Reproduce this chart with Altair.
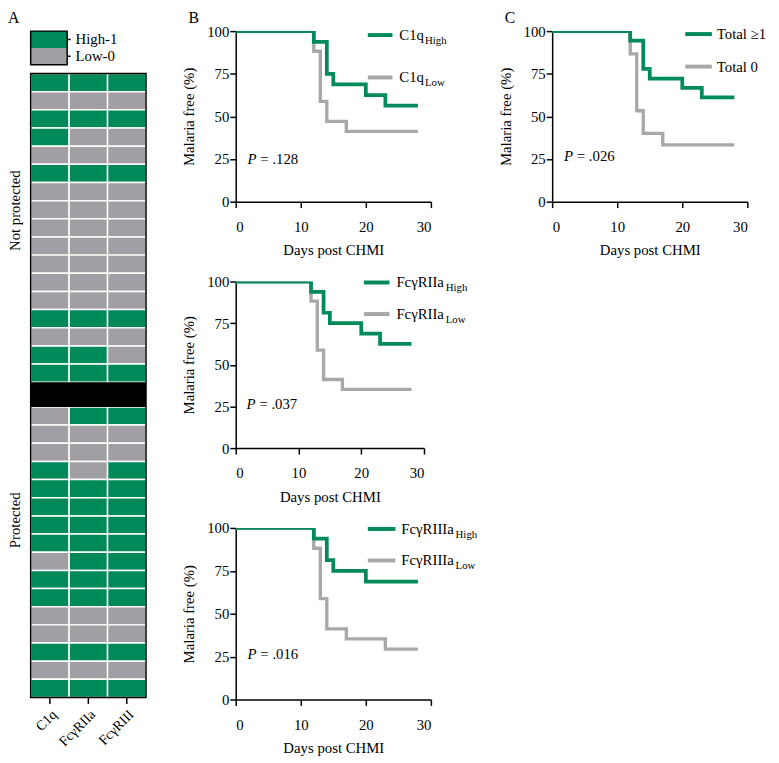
import altair as alt
import pandas as pd

GREEN = "#008A5A"
GRAY_HM = "#A19FA3"
GRAY_LN = "#A8A8A8"
FONT = "Liberation Serif"

# ---------------- Panel A data (1 = High, 0 = Low), rows top to bottom ----------------
columns = ["C1q", "FcγRIIa", "FcγRIII"]
np_c1q = [1, 0, 1, 1, 0, 1, 0, 0, 0, 0, 0, 0, 0, 1, 0, 1, 1]
np_fc2a = [1, 0, 1, 0, 0, 1, 0, 0, 0, 0, 0, 0, 0, 1, 0, 1, 1]
np_fc3 = [1, 0, 1, 0, 0, 1, 0, 0, 0, 0, 0, 0, 0, 1, 0, 0, 1]
pr_c1q = [0, 0, 0, 1, 1, 1, 1, 1, 0, 1, 1, 0, 0, 1, 0, 1]
pr_fc2a = [1, 0, 0, 0, 1, 1, 1, 1, 1, 1, 1, 0, 0, 1, 0, 1]
pr_fc3 = [1, 0, 0, 1, 1, 1, 1, 1, 1, 1, 1, 0, 0, 1, 0, 1]
groups = ["Not protected", "Protected"]
levels = ["High-1", "Low-0"]

# ---------------- Panel B / C Kaplan-Meier data ----------------
b1_high_t = [0, 12, 14, 15, 20, 23, 28]
b1_high_s = [100, 93.75, 75, 68.75, 62.5, 56.25, 56.25]
b1_low_t = [0, 12, 13, 14, 17, 28]
b1_low_s = [100, 88.2, 58.8, 47.1, 41.2, 41.2]

b2_high_t = [0, 12, 14, 15, 20, 23, 28]
b2_high_s = [100, 93.75, 81.25, 75, 68.75, 62.5, 62.5]
b2_low_t = [0, 12, 13, 14, 17, 28]
b2_low_s = [100, 88.2, 58.8, 41.2, 35.3, 35.3]

b3_high_t = [0, 12, 14, 15, 20, 28]
b3_high_s = [100, 93.75, 81.25, 75, 68.75, 68.75]
b3_low_t = [0, 12, 13, 14, 17, 23, 28]
b3_low_s = [100, 88.2, 58.8, 41.2, 35.3, 29.4, 29.4]

c_high_t = [0, 12, 14, 15, 20, 23, 28]
c_high_s = [100, 94.4, 77.8, 72.2, 66.7, 61.1, 61.1]
c_low_t = [0, 12, 13, 14, 17, 28]
c_low_s = [100, 86.7, 53.3, 40, 33.3, 33.3]

x_ticks = [0, 10, 20, 30]
y_ticks = [0, 25, 50, 75, 100]

# ---------------- Build heatmap table ----------------
GAP = 1.36  # height of black separator band (in rows)
HM_W, HM_H = 117, 633
n_np, n_pr = len(np_c1q), len(pr_c1q)
TOTAL = n_np + GAP + n_pr

rows = []
for grp_vals, offset in (((np_c1q, np_fc2a, np_fc3), 0), ((pr_c1q, pr_fc2a, pr_fc3), n_np + GAP)):
    for col, vals in zip(columns, grp_vals):
        for i, v in enumerate(vals):
            rows.append({"col": col, "y0": offset + i, "y1": offset + i + 1,
                         "level": levels[0] if v == 1 else levels[1]})
hm_df = pd.DataFrame(rows)
one = pd.DataFrame({"a": [0]})

color_scale = alt.Scale(domain=levels, range=[GREEN, GRAY_HM])
yscale_hm = alt.Scale(domain=[0, TOTAL], reverse=True, nice=False, zero=False)

LETTER_Y = -8
LETTER_SIZE = 16

cells = alt.Chart(hm_df).mark_rect(stroke="white", strokeWidth=1.5).encode(
    x=alt.X("col:N", sort=columns, scale=alt.Scale(paddingInner=0, paddingOuter=0),
            axis=alt.Axis(title=None, labelAngle=-45, labelFontSize=14, tickSize=6,
                          labelPadding=4, domain=False)),
    y=alt.Y("y0:Q", scale=yscale_hm, axis=None),
    y2="y1:Q",
    color=alt.Color("level:N", scale=color_scale, legend=None),
)
band = alt.Chart(pd.DataFrame({"y0": [n_np], "y1": [n_np + GAP]})).mark_rect(color="black").encode(
    x=alt.value(0), x2=alt.value(HM_W), y="y0:Q", y2="y1:Q")
grp_lab = alt.Chart(pd.DataFrame({"g": groups, "yc": [7.55, 24.6]})).mark_text(
    angle=270, font=FONT, fontSize=15, color="black", baseline="middle", align="center").encode(
    x=alt.value(-16), y="yc:Q", text="g:N")
border = alt.Chart(one).mark_rect(filled=False, stroke="black", strokeWidth=1.5).encode(
    x=alt.value(0), x2=alt.value(HM_W), y=alt.value(0), y2=alt.value(HM_H))
heat = alt.layer(cells, band, grp_lab, border).properties(width=HM_W, height=HM_H)

LEG_W, LEG_H = 37, 34
leg_cells = alt.Chart(pd.DataFrame({"level": levels})).mark_rect().encode(
    x=alt.value(0), x2=alt.value(LEG_W),
    y=alt.Y("level:N", sort=levels, scale=alt.Scale(paddingInner=0, paddingOuter=0),
            axis=alt.Axis(orient="right", title=None, labelFontSize=15, tickSize=3,
                          labelPadding=5, domain=False)),
    color=alt.Color("level:N", scale=color_scale, legend=None),
)
leg_border = alt.Chart(one).mark_rect(filled=False, stroke="black", strokeWidth=1.5).encode(
    x=alt.value(0), x2=alt.value(LEG_W), y=alt.value(0), y2=alt.value(LEG_H))
letter_a = alt.Chart(one).mark_text(font=FONT, fontSize=LETTER_SIZE, align="left",
                                    baseline="alphabetic", color="black").encode(
    x=alt.value(-23), y=alt.value(LETTER_Y), text=alt.value("A"))
legend_chart = alt.layer(leg_cells, leg_border, letter_a).properties(width=LEG_W, height=LEG_H)

col_a = alt.vconcat(legend_chart, heat, spacing=9, bounds="flush")


# ---------------- KM panels ----------------
def km(ht, hs, lt, ls, labels, subs, pval, w, h, leg, letter=None):
    lx0, lx1, ly_hi, ly_lo, tx, sx = leg
    xaxis = alt.Axis(values=x_ticks, title="Days post CHMI", titlePadding=9, labelPadding=12,
                     tickSize=6, grid=False)
    yaxis = alt.Axis(values=y_ticks, title="Malaria free (%)", titlePadding=10, labelPadding=1,
                     tickSize=6, grid=False)
    xs = alt.Scale(domain=[0, 30], nice=False)
    ys = alt.Scale(domain=[0, 100], nice=False)
    low = alt.Chart(pd.DataFrame({"t": lt, "s": ls})).mark_line(
        interpolate="step-after", color=GRAY_LN, strokeWidth=3.4, clip=True).encode(
        x=alt.X("t:Q", scale=xs, axis=xaxis), y=alt.Y("s:Q", scale=ys, axis=yaxis))
    high = alt.Chart(pd.DataFrame({"t": ht, "s": hs})).mark_line(
        interpolate="step-after", color=GREEN, strokeWidth=3.8, clip=True).encode(
        x="t:Q", y="s:Q")
    layers = [low, high]
    for yy, col, lab, sub in ((ly_hi, GREEN, labels[0], subs[0]), (ly_lo, GRAY_LN, labels[1], subs[1])):
        layers.append(alt.Chart(one).mark_rule(color=col, strokeWidth=4).encode(
            x=alt.value(lx0), x2=alt.value(lx1), y=alt.value(yy)))
        layers.append(alt.Chart(one).mark_text(font=FONT, fontSize=15, align="left",
                                               baseline="middle", color="black").encode(
            x=alt.value(tx), y=alt.value(yy), text=alt.value(lab)))
        if sub:
            layers.append(alt.Chart(one).mark_text(font=FONT, fontSize=11, align="left",
                                                   baseline="middle", color="black").encode(
                x=alt.value(sx), y=alt.value(yy + 6), text=alt.value(sub)))
    px, py = pval[1], pval[2]
    layers.append(alt.Chart(one).mark_text(font=FONT, fontSize=15, fontStyle="italic", align="left",
                                           baseline="middle", color="black").encode(
        x=alt.value(px), y=alt.value(py), text=alt.value("P")))
    layers.append(alt.Chart(one).mark_text(font=FONT, fontSize=15, align="left",
                                           baseline="middle", color="black").encode(
        x=alt.value(px + 13), y=alt.value(py), text=alt.value("= " + pval[0])))
    if letter:
        layers.append(alt.Chart(one).mark_text(font=FONT, fontSize=LETTER_SIZE, align="left",
                                               baseline="alphabetic", color="black").encode(
            x=alt.value(letter[1]), y=alt.value(LETTER_Y), text=alt.value(letter[0])))
    return alt.layer(*layers).properties(width=w, height=h)


b1 = km(b1_high_t, b1_high_s, b1_low_t, b1_low_s, ["C1q", "C1q"], ["High", "Low"],
        [".128", 12, 130], 198, 173, (134, 159, 4, 47, 166, 192), letter=("B", -48))
b2 = km(b2_high_t, b2_high_s, b2_low_t, b2_low_s, ["FcγRIIa", "FcγRIIa"], ["High", "Low"],
        [".037", 11, 124], 191, 169, (130, 156, 1, 33, 163, 213))
b3 = km(b3_high_t, b3_high_s, b3_low_t, b3_low_s, ["FcγRIIIa", "FcγRIIIa"], ["High", "Low"],
        [".016", 12, 128], 198, 174, (134, 162, 1, 33, 168, 223))
c = km(c_high_t, c_high_s, c_low_t, c_low_s, ["Total ≥1", "Total 0"], [None, None],
       [".026", 12, 127], 198, 173, (135, 162, 3, 36, 167, 0), letter=("C", -48))

# Nested concat groups count as zero-size under flush bounds, so spacing here
# is the distance between the left edges of successive columns.
col_b = alt.vconcat(b1, b2, b3, spacing=81, bounds="flush")
right = alt.hconcat(col_b, c, spacing=321, bounds="flush")

chart = alt.hconcat(col_a, right, spacing=208, bounds="flush").properties(
    padding={"left": 0, "top": -3, "right": 4, "bottom": 4},
    background="white",
).configure_view(stroke=None).configure_axis(
    labelFont=FONT, titleFont=FONT, labelFontSize=15, titleFontSize=15,
    labelColor="black", titleColor="black", domainColor="black", tickColor="black",
    titleFontWeight="normal", domainWidth=1.5, tickWidth=1.5,
)

chart.save("out.html", embed_options={"renderer": "svg", "actions": False})
